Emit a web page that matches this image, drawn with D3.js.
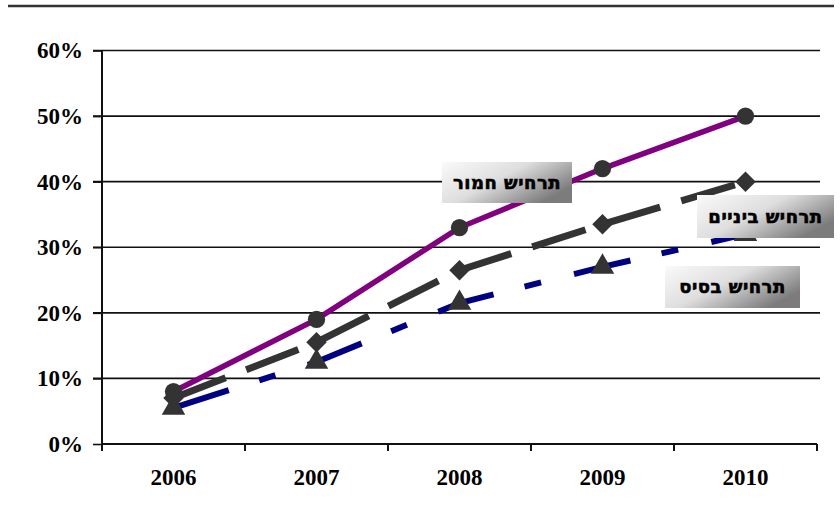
<!DOCTYPE html>
<html>
<head>
<meta charset="utf-8">
<script src="https://cdn.jsdelivr.net/npm/d3@7/dist/d3.min.js"></script>
<style>
  html, body { margin: 0; padding: 0; background: #fff; }
  svg { display: block; }
</style>
</head>
<body>
<svg id="chart" width="840" height="519"></svg>
<script>
// Scenario projections, 2006–2010 (share, %)
const years = ["2006", "2007", "2008", "2009", "2010"];
const severe = [8, 19, 33, 42, 50];             // תרחיש חמור
const intermediate = [7, 15.5, 26.5, 33.5, 40]; // תרחיש ביניים
const baseline = [5.5, 12.5, 21.5, 27, 32];     // תרחיש בסיס
const yTicks = [0, 10, 20, 30, 40, 50, 60];
const seriesNames = ["תרחיש חמור", "תרחיש ביניים", "תרחיש בסיס"];

const svg = d3.select("#chart");
const m = { left: 102, right: 817, top: 50.5, bottom: 444 };

const x = d3.scaleBand().domain(years).range([m.left, m.right]).padding(0);
const y = d3.scaleLinear().domain([0, 60]).range([m.bottom, m.top]);

// gradient used by the series labels
const defs = svg.append("defs");
const grad = defs.append("linearGradient").attr("id", "lblGrad")
  .attr("x1", "0").attr("y1", "0").attr("x2", "1").attr("y2", "0.6");
grad.append("stop").attr("offset", "0").attr("stop-color", "#fafafa");
grad.append("stop").attr("offset", "0.5").attr("stop-color", "#dedede");
grad.append("stop").attr("offset", "1").attr("stop-color", "#7c7c7c");

// top rule
svg.append("line").attr("x1", 8).attr("x2", 834).attr("y1", 6).attr("y2", 6)
  .attr("stroke", "#333").attr("stroke-width", 2.5);

// horizontal gridlines
svg.append("g").selectAll("line").data(yTicks.filter(d => d > 0)).join("line")
  .attr("x1", m.left - 9).attr("x2", m.right + 3)
  .attr("y1", d => y(d)).attr("y2", d => y(d))
  .attr("stroke", "#111").attr("stroke-width", 1.6);

// y axis
const yAxis = svg.append("g").attr("transform", `translate(${m.left},0)`)
  .call(d3.axisLeft(y).tickValues(yTicks).tickFormat(d => d + "%").tickSize(9).tickPadding(10));
yAxis.select(".domain").remove();
yAxis.selectAll(".tick line").attr("stroke", "#111").attr("stroke-width", 1.6);
yAxis.selectAll("text")
  .attr("font-family", "'Liberation Serif', 'Times New Roman', serif")
  .attr("font-weight", "bold").attr("font-size", 23).attr("fill", "#000");
svg.append("line").attr("x1", m.left).attr("x2", m.left).attr("y1", m.top).attr("y2", m.bottom + 7)
  .attr("stroke", "#111").attr("stroke-width", 2);

// x axis with ticks at band edges
const xg = svg.append("g").attr("transform", `translate(0,${m.bottom})`);
xg.append("line").attr("x1", m.left).attr("x2", m.right).attr("stroke", "#111").attr("stroke-width", 2);
const edges = years.map(d => x(d)).concat([x(years[years.length - 1]) + x.bandwidth()]);
xg.selectAll(".edge").data(edges).join("line").attr("class", "edge")
  .attr("x1", d => d).attr("x2", d => d).attr("y1", 0).attr("y2", 7)
  .attr("stroke", "#111").attr("stroke-width", 2);
xg.selectAll(".yr").data(years).join("text").attr("class", "yr")
  .attr("x", d => x(d) + x.bandwidth() / 2).attr("y", 41)
  .attr("text-anchor", "middle")
  .attr("font-family", "'Liberation Serif', 'Times New Roman', serif")
  .attr("font-weight", "bold").attr("font-size", 23).attr("fill", "#000")
  .text(d => d);

const cx = d => x(d) + x.bandwidth() / 2;
const line = d3.line().x((v, i) => cx(years[i])).y(v => y(v));

// square turned 45° for the diamond markers
const squareDiamond = d3.symbol().type(d3.symbolSquare).size(210);

const series = [
  { name: seriesNames[2], values: baseline, color: "#000080", width: 6, dash: "58,32,17,34",
    shape: d3.symbol().type(d3.symbolTriangle).size(240), rot: 0 },
  { name: seriesNames[1], values: intermediate, color: "#333333", width: 7, dash: "56,22",
    shape: squareDiamond, rot: 45 },
  { name: seriesNames[0], values: severe, color: "#800080", width: 5.5, dash: null,
    shape: d3.symbol().type(d3.symbolCircle).size(235), rot: 0 }
];

const gS = svg.append("g");
series.forEach(s => {
  gS.append("path").datum(s.values).attr("d", line)
    .attr("fill", "none").attr("stroke", s.color).attr("stroke-width", s.width)
    .attr("stroke-dasharray", s.dash);
  gS.append("g").selectAll("path").data(s.values).join("path")
    .attr("transform", (v, i) => `translate(${cx(years[i])},${y(v)}) rotate(${s.rot})`)
    .attr("d", s.shape)
    .attr("fill", "#333");
});

// series labels
const labels = [
  { text: seriesNames[0], x: 442, y: 162, w: 130, h: 41 },
  { text: seriesNames[1], x: 697, y: 195, w: 137, h: 43 },
  { text: seriesNames[2], x: 665, y: 266, w: 135, h: 42 }
];
const gL = svg.append("g");
labels.forEach(l => {
  gL.append("rect").attr("x", l.x).attr("y", l.y).attr("width", l.w).attr("height", l.h)
    .attr("fill", "url(#lblGrad)");
  gL.append("text").attr("x", l.x + l.w / 2).attr("y", l.y + l.h / 2 + 1)
    .attr("text-anchor", "middle").attr("dominant-baseline", "middle")
    .attr("direction", "rtl")
    .attr("font-family", "'DejaVu Sans', sans-serif")
    .attr("font-weight", "bold").attr("font-size", 18).attr("letter-spacing", 0.5)
    .attr("stroke", "#000").attr("stroke-width", 0.6)
    .attr("fill", "#000")
    .text(l.text);
});
</script>
</body>
</html>
